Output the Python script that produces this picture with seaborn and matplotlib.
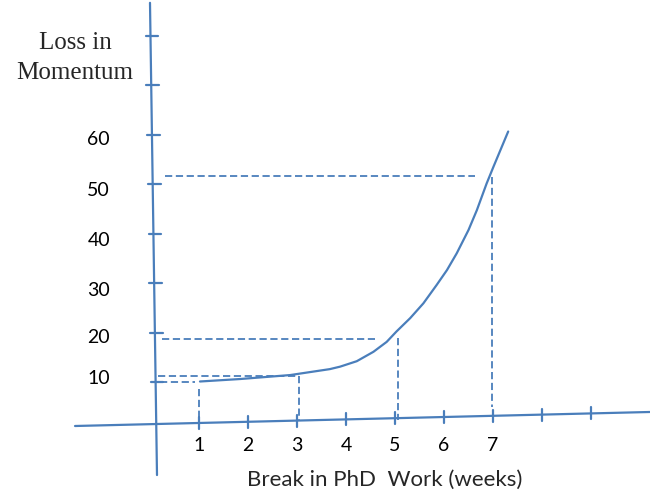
import numpy as np
import pandas as pd
import matplotlib
matplotlib.use("Agg")
import matplotlib.pyplot as plt
import seaborn as sns

# curve (weeks, loss in momentum)
weeks = [1.02, 1.84, 2.86, 3.67, 3.88, 4.22, 4.56, 4.83, 5.03, 5.31, 5.58, 5.85,
         6.06, 6.26, 6.50, 6.67, 6.87, 7.01, 7.31]
loss = [10.2, 10.7, 11.5, 12.7, 13.2, 14.3, 16.2, 18.2, 20.3, 23.0, 26.0, 29.7,
        32.7, 36.1, 40.8, 44.8, 50.2, 53.6, 60.7]

x_ticks = [1, 2, 3, 4, 5, 6, 7, 8, 9]
x_tick_labels = ["1", "2", "3", "4", "5", "6", "7", "", ""]
y_ticks = [10, 20, 30, 40, 50, 60, 70, 80]
y_tick_labels = ["10", "20", "30", "40", "50", "60"]
y_label_pos = [10.8, 19.0, 28.5, 38.6, 48.7, 59.0]

# dashed read-off guides: week, loss, where the horizontal starts / ends, where the vertical ends
guide_week = [1.0, 3.04, 5.06, 6.98]
guide_loss = [10.1, 11.3, 18.8, 51.7]
guide_h_start = [0.20, 0.16, 0.24, 0.31]
guide_h_end = [0.92, 3.04, 4.59, 6.63]
guide_v_top = [8.7, 11.3, 19.0, 51.5]
guide_v_bottom = [2.4, 2.4, 2.4, 5.05]

blue = "#4a7ebb"

sns.set_style("white")
plt.rcParams["font.family"] = ["Lato", "DejaVu Sans"]

fig = plt.figure(figsize=(6.5, 4.95), dpi=100)
ax = fig.add_axes([0, 0, 1, 1])

# hand drawn axes (slightly tilted like the sketch)
v_axis = pd.DataFrame({"x": [0.0, 0.143], "y": [86.7, -8.7]})
h_axis = pd.DataFrame({"x": [-1.53, 10.2], "y": [1.21, 4.04]})
ax.plot(v_axis.x, v_axis.y, color=blue, lw=1.6)
ax.plot(h_axis.x, h_axis.y, color=blue, lw=1.6)


def v_axis_x(y):
    return np.interp(y, v_axis.y[::-1], v_axis.x[::-1])


def h_axis_y(x):
    return np.interp(x, h_axis.x, h_axis.y)


for yt in y_ticks:
    xa = v_axis_x(yt)
    ax.plot([xa - 0.1, xa + 0.16], [yt, yt], color=blue, lw=1.6)
for xt in x_ticks:
    ya = h_axis_y(xt)
    ax.plot([xt, xt], [ya - 1.2, ya + 1.2], color=blue, lw=1.6)

for lab, yp in zip(y_tick_labels, y_label_pos):
    ax.text(-0.816, yp, lab, ha="right", va="center", fontsize=14, color="black")
for lab, xt in zip(x_tick_labels, x_ticks):
    if lab:
        ax.text(xt, -2.63, lab, ha="center", va="center", fontsize=14, color="black")

# guides
for w, l, hs, he, vt, vb in zip(guide_week, guide_loss, guide_h_start, guide_h_end, guide_v_top, guide_v_bottom):
    ax.plot([hs, he], [l, l], color=blue, lw=1.3, dashes=(4, 2))
    ax.plot([w, w], [vt, vb], color=blue, lw=1.3, dashes=(4, 2))

# the curve
df = pd.DataFrame({"weeks": weeks, "loss": loss})
sns.lineplot(data=df, x="weeks", y="loss", ax=ax, color=blue, lw=1.6, sort=False)
ax.set_xlim(-3.061, 10.204)
ax.set_ylim(-12.73, 87.27)
ax.axis("off")

ax.text(-1.53, 78.6, "Loss in", ha="center", va="center", fontsize=18,
        family=["Liberation Serif", "DejaVu Serif"])
ax.text(-1.53, 72.5, "Momentum", ha="center", va="center", fontsize=18,
        family=["Liberation Serif", "DejaVu Serif"])
ax.text(4.78, -9.7, "Break in PhD  Work (weeks)", ha="center", va="center", fontsize=16)

fig.savefig("out.png", dpi=100)
